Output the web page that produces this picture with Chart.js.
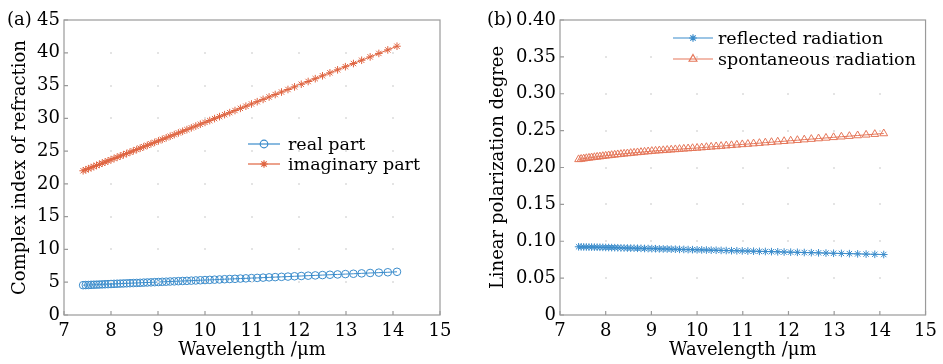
<!DOCTYPE html>
<html>
<head>
<meta charset="utf-8">
<script src="https://cdn.jsdelivr.net/npm/chart.js@4"></script>
<style>
  body { margin: 0; background: #fff; }
  .panel { position: absolute; top: 0; }
</style>
</head>
<body>
<div class="panel" style="left:0px"><canvas id="chartA" width="470" height="364"></canvas></div>
<div class="panel" style="left:473px"><canvas id="chartB" width="470" height="364"></canvas></div>
<script>
// wavelength samples (µm)
const wavelength = [
  7.407, 7.463, 7.519, 7.576, 7.634, 7.692, 7.752, 7.813, 7.874, 7.937,
  8.000, 8.065, 8.130, 8.197, 8.264, 8.333, 8.403, 8.475, 8.547, 8.621,
  8.696, 8.772, 8.850, 8.929, 9.009, 9.091, 9.174, 9.259, 9.346, 9.434,
  9.524, 9.615, 9.709, 9.804, 9.901, 10.000, 10.101, 10.204, 10.309, 10.417,
  10.526, 10.638, 10.753, 10.870, 10.989, 11.111, 11.236, 11.364, 11.494, 11.628,
  11.765, 11.905, 12.048, 12.195, 12.346, 12.500, 12.658, 12.821, 12.987, 13.158,
  13.333, 13.514, 13.699, 13.889, 14.085
];

// (a) complex index of refraction
const realPart = [
  4.55, 4.57, 4.58, 4.60, 4.62, 4.63, 4.65, 4.67, 4.69, 4.71,
  4.73, 4.75, 4.77, 4.79, 4.81, 4.83, 4.85, 4.87, 4.89, 4.91,
  4.94, 4.96, 4.98, 5.01, 5.03, 5.06, 5.08, 5.11, 5.13, 5.16,
  5.19, 5.21, 5.24, 5.27, 5.30, 5.33, 5.36, 5.39, 5.42, 5.46,
  5.49, 5.52, 5.56, 5.59, 5.63, 5.66, 5.70, 5.74, 5.78, 5.82,
  5.86, 5.91, 5.95, 6.00, 6.04, 6.09, 6.14, 6.19, 6.24, 6.29,
  6.35, 6.41, 6.46, 6.52, 6.59
];
const imaginaryPart = [
  22.00, 22.16, 22.32, 22.48, 22.65, 22.81, 22.98, 23.16, 23.33, 23.51,
  23.69, 23.87, 24.06, 24.25, 24.44, 24.63, 24.83, 25.04, 25.24, 25.45,
  25.67, 25.88, 26.11, 26.33, 26.56, 26.79, 27.03, 27.27, 27.52, 27.77,
  28.02, 28.28, 28.55, 28.82, 29.10, 29.38, 29.66, 29.96, 30.26, 30.56,
  30.87, 31.19, 31.52, 31.85, 32.19, 32.54, 32.89, 33.26, 33.63, 34.01,
  34.40, 34.80, 35.20, 35.62, 36.05, 36.49, 36.94, 37.40, 37.88, 38.36,
  38.86, 39.37, 39.90, 40.44, 41.00
];

// (b) linear polarization degree
const reflected = [
  0.0925, 0.0924, 0.0923, 0.0922, 0.0921, 0.0921, 0.0920, 0.0919, 0.0918, 0.0917,
  0.0916, 0.0915, 0.0914, 0.0913, 0.0912, 0.0910, 0.0909, 0.0908, 0.0907, 0.0906,
  0.0905, 0.0904, 0.0902, 0.0901, 0.0900, 0.0899, 0.0897, 0.0896, 0.0895, 0.0893,
  0.0892, 0.0890, 0.0889, 0.0887, 0.0886, 0.0884, 0.0883, 0.0881, 0.0879, 0.0878,
  0.0876, 0.0874, 0.0872, 0.0871, 0.0869, 0.0867, 0.0865, 0.0863, 0.0861, 0.0859,
  0.0857, 0.0854, 0.0852, 0.0850, 0.0847, 0.0845, 0.0843, 0.0840, 0.0837, 0.0835,
  0.0832, 0.0829, 0.0826, 0.0823, 0.0820
];
const spontaneous = [
  0.2110, 0.2115, 0.2120, 0.2125, 0.2130, 0.2135, 0.2139, 0.2144, 0.2148, 0.2153,
  0.2158, 0.2163, 0.2167, 0.2172, 0.2177, 0.2181, 0.2186, 0.2190, 0.2195, 0.2199,
  0.2204, 0.2208, 0.2213, 0.2217, 0.2222, 0.2226, 0.2230, 0.2233, 0.2237, 0.2241,
  0.2245, 0.2249, 0.2253, 0.2257, 0.2261, 0.2265, 0.2270, 0.2275, 0.2280, 0.2285,
  0.2290, 0.2296, 0.2301, 0.2307, 0.2313, 0.2318, 0.2324, 0.2330, 0.2337, 0.2343,
  0.2350, 0.2356, 0.2363, 0.2370, 0.2378, 0.2385, 0.2393, 0.2401, 0.2409, 0.2417,
  0.2425, 0.2434, 0.2443, 0.2452, 0.2461
];

const BLUE = '#3b8ccb';
const ORANGE = '#df6440';
const ORANGE_B = '#e5775a';
const FONT = "'DejaVu Serif', serif";
const FS = 18;
const INK = '#000';
const FRAME = '#9a9a9a';

function pts(ys) {
  return wavelength.map((w, i) => ({ x: w, y: ys[i] }));
}

// frame box, inward ticks, faint grid dots, panel tag and in-plot legend
const framePlugin = {
  id: 'frame',
  afterDatasetsDraw(chart, args, opts) {
    const { ctx, chartArea: a, scales } = chart;
    const xs = scales.x, ys = scales.y;
    ctx.save();
    // grid dots
    ctx.fillStyle = '#e4e4e4';
    xs.ticks.forEach(tx => {
      const px = xs.getPixelForValue(tx.value);
      ys.ticks.forEach(ty => {
        const py = ys.getPixelForValue(ty.value);
        if (px > a.left + 1 && px < a.right - 1 && py > a.top + 1 && py < a.bottom - 1) {
          ctx.fillRect(Math.round(px) - 1, Math.round(py) - 1, 2, 2);
        }
      });
    });
    // box
    ctx.strokeStyle = FRAME;
    ctx.lineWidth = 1.2;
    ctx.strokeRect(a.left, a.top, a.right - a.left, a.bottom - a.top);
    // inward ticks
    ctx.beginPath();
    xs.ticks.forEach(t => {
      const px = xs.getPixelForValue(t.value);
      ctx.moveTo(px, a.bottom);
      ctx.lineTo(px, a.bottom - 4);
    });
    ys.ticks.forEach(t => {
      const py = ys.getPixelForValue(t.value);
      ctx.moveTo(a.left, py);
      ctx.lineTo(a.left + 4, py);
    });
    ctx.stroke();
    // panel tag
    ctx.fillStyle = INK;
    ctx.font = FS + 'px ' + FONT;
    ctx.textBaseline = 'middle';
    ctx.textAlign = 'left';
    ctx.fillText(opts.tag, opts.tagX, opts.tagY);
    // legend
    const lg = opts.legend;
    ctx.font = '17.5px ' + FONT;
    chart.data.datasets.forEach((ds, i) => {
      const y = lg.y + i * lg.gap;
      ctx.strokeStyle = ds.borderColor;
      ctx.lineWidth = 1.2;
      ctx.beginPath();
      ctx.moveTo(lg.x, y);
      ctx.lineTo(lg.x + lg.w, y);
      ctx.stroke();
      ctx.fillStyle = 'rgba(0,0,0,0)';
      ctx.strokeStyle = ds.pointBorderColor;
      Chart.helpers.drawPoint(ctx, {
        pointStyle: ds.pointStyle, radius: ds.pointRadius, rotation: 0, borderWidth: 1
      }, lg.x + lg.w / 2, y);
      ctx.fillStyle = INK;
      ctx.fillText(ds.label, lg.x + lg.w + lg.pad, y + 1);
    });
    ctx.restore();
  }
};

function makeOptions(cfg) {
  return {
    responsive: false,
    animation: false,
    layout: { padding: { top: 20, right: cfg.padRight, left: 0, bottom: 0 } },
    plugins: {
      legend: { display: false },
      tooltip: { enabled: false },
      frame: cfg.frame
    },
    scales: {
      x: {
        type: 'linear',
        min: 7,
        max: 15,
        afterFit(scale) { scale.height = 49; },
        grid: { display: false, drawTicks: false },
        border: { display: false },
        ticks: { stepSize: 1, padding: 6, color: INK, font: { family: FONT, size: FS } },
        title: {
          display: true, text: 'Wavelength /μm', color: INK,
          font: { family: FONT, size: FS }, padding: { top: 0, bottom: 3 }
        }
      },
      y: {
        min: cfg.yMin,
        max: cfg.yMax,
        afterFit(scale) { scale.width = cfg.yWidth; },
        grid: { display: false, drawTicks: false },
        border: { display: false },
        ticks: {
          stepSize: cfg.yStep, padding: 4, color: INK,
          font: { family: FONT, size: FS },
          callback: cfg.yFormat
        },
        title: {
          display: true, text: cfg.yTitle, color: INK,
          font: { family: FONT, size: FS }, padding: { top: cfg.titlePad, bottom: 0 }
        }
      }
    }
  };
}

function series(label, ys, color, style, radius) {
  return {
    label,
    data: pts(ys),
    showLine: true,
    borderColor: color,
    borderWidth: 1,
    pointStyle: style,
    pointRadius: radius,
    pointBorderColor: color,
    pointBackgroundColor: 'rgba(0,0,0,0)',
    pointBorderWidth: 1
  };
}

new Chart(document.getElementById('chartA'), {
  type: 'scatter',
  data: {
    datasets: [
      series('real part', realPart, BLUE, 'circle', 3.8),
      series('imaginary part', imaginaryPart, ORANGE, 'star', 3.8)
    ]
  },
  options: makeOptions({
    padRight: 30, yWidth: 64, yMin: 0, yMax: 45, yStep: 5, titlePad: 10,
    yTitle: 'Complex index of refraction',
    yFormat: v => String(v),
    frame: { tag: '(a)', tagX: 7, tagY: 20, legend: { x: 248, y: 144, gap: 20, w: 32, pad: 8 } }
  }),
  plugins: [framePlugin]
});

new Chart(document.getElementById('chartB'), {
  type: 'scatter',
  data: {
    datasets: [
      series('reflected radiation', reflected, BLUE, 'star', 3.8),
      series('spontaneous radiation', spontaneous, ORANGE_B, 'triangle', 4.5)
    ]
  },
  options: makeOptions({
    padRight: 11, yWidth: 87, yMin: 0, yMax: 0.4, yStep: 0.05, titlePad: 15,
    yTitle: 'Linear polarization degree',
    yFormat: v => (Math.abs(v) < 1e-9 ? '0' : v.toFixed(2)),
    frame: { tag: '(b)', tagX: 14, tagY: 20, legend: { x: 200, y: 38, gap: 21, w: 40, pad: 5 } }
  }),
  plugins: [framePlugin]
});
</script>
</body>
</html>
